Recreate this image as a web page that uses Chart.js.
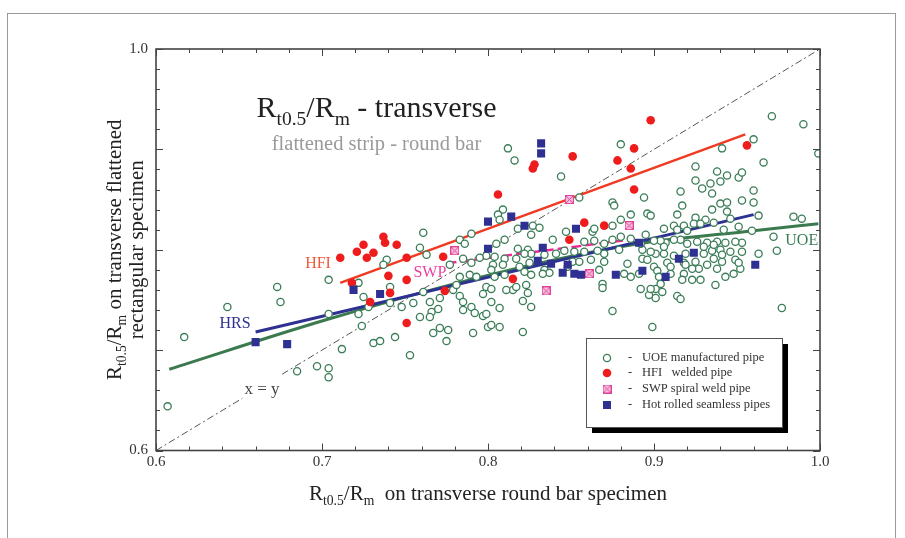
<!DOCTYPE html>
<html><head><meta charset="utf-8">
<script src="https://cdn.jsdelivr.net/npm/chart.js@4/dist/chart.umd.min.js"></script>
<style>html,body{margin:0;padding:0;background:#fff;}canvas{display:block}</style>
</head><body>
<canvas id="c" width="905" height="538"></canvas>
<script>
// ---------------- data ----------------
const uoePoints = [
[0.607,0.644],[0.617,0.713],[0.643,0.743],[0.673,0.763],[0.675,0.748],[0.685,0.679],[0.697,0.684],[0.704,0.682],[0.704,0.673],[0.704,0.770],[0.704,0.736],[0.712,0.701],[0.722,0.767],[0.724,0.724],[0.725,0.753],[0.722,0.736],[0.728,0.743],[0.731,0.707],[0.735,0.709],[0.744,0.713],[0.739,0.790],[0.737,0.785],[0.741,0.763],[0.741,0.747],[0.748,0.743],[0.753,0.695],[0.755,0.747],[0.759,0.733],[0.761,0.817],[0.759,0.802],[0.763,0.795],[0.761,0.758],[0.765,0.748],[0.766,0.738],[0.771,0.752],[0.767,0.717],[0.771,0.722],[0.776,0.720],[0.775,0.709],[0.770,0.741],[0.779,0.760],[0.783,0.773],[0.785,0.791],[0.783,0.810],[0.786,0.806],[0.790,0.816],[0.789,0.775],[0.793,0.773],[0.781,0.765],[0.783,0.754],[0.785,0.748],[0.790,0.743],[0.785,0.740],[0.792,0.737],[0.797,0.756],[0.799,0.763],[0.797,0.734],[0.791,0.717],[0.800,0.723],[0.799,0.794],[0.795,0.792],[0.790,0.787],
[0.812,0.901],[0.816,0.889],[0.844,0.873],[0.880,0.905],[0.855,0.852],[0.875,0.847],[0.894,0.852],[0.896,0.836],[0.886,0.835],[0.880,0.830],[0.875,0.824],[0.809,0.840],[0.806,0.835],[0.807,0.830],[0.827,0.824],[0.971,0.933],[0.990,0.925],[0.999,0.896],[0.960,0.910],[0.941,0.901],[0.966,0.887],[0.925,0.883],[0.938,0.878],[0.944,0.874],[0.951,0.872],[0.953,0.877],[0.925,0.869],[0.929,0.861],[0.934,0.866],[0.940,0.868],[0.935,0.856],[0.916,0.858],[0.960,0.859],[0.953,0.849],[0.960,0.847],[0.917,0.844],[0.940,0.846],[0.944,0.847],[0.935,0.840],[0.944,0.838],[0.914,0.835],[0.898,0.834],[0.963,0.834],[0.946,0.831],[0.925,0.832],[0.984,0.833],[0.989,0.831],[0.931,0.830],[0.876,0.844],[0.831,0.822],[0.972,0.813],[0.974,0.799],[0.963,0.796],[0.977,0.742],
[0.906,0.821],[0.912,0.824],[0.918,0.824],[0.924,0.826],[0.928,0.826],[0.936,0.827],[0.942,0.820],[0.951,0.823],[0.959,0.819],
[0.952,0.781],[0.948,0.776],[0.943,0.773],[0.937,0.765],[0.928,0.770],[0.923,0.770],[0.918,0.776],[0.927,0.781],[0.932,0.785],[0.938,0.781],[0.941,0.788],[0.936,0.791],[0.935,0.799],[0.940,0.800],[0.946,0.798],[0.953,0.798],[0.953,0.807],[0.949,0.808],[0.943,0.807],[0.938,0.808],[0.932,0.807],[0.926,0.808],[0.920,0.806],[0.916,0.810],[0.912,0.810],[0.907,0.807],[0.904,0.809],[0.900,0.809],[0.901,0.796],[0.906,0.796],[0.908,0.787],[0.900,0.783],[0.902,0.779],[0.918,0.787],[0.923,0.781],[0.904,0.766],[0.901,0.761],[0.914,0.754],[0.916,0.751],[0.901,0.752],[0.899,0.723],[0.897,0.755],[0.914,0.820],[0.920,0.819],
[0.810,0.810],[0.805,0.806],[0.818,0.821],[0.826,0.815],[0.818,0.801],[0.824,0.800],[0.839,0.810],[0.847,0.818],[0.863,0.818],[0.864,0.809],[0.858,0.808],[0.870,0.806],[0.875,0.810],[0.880,0.813],[0.886,0.811],[0.895,0.815],[0.893,0.800],[0.898,0.798],[0.870,0.796],[0.879,0.800],[0.866,0.799],[0.858,0.798],[0.852,0.798],[0.846,0.799],[0.841,0.796],[0.834,0.795],[0.826,0.796],[0.822,0.796],[0.817,0.791],[0.810,0.791],[0.804,0.793],[0.803,0.785],[0.809,0.785],[0.819,0.783],[0.825,0.787],[0.822,0.778],[0.834,0.780],[0.837,0.777],[0.833,0.776],[0.848,0.783],[0.851,0.788],[0.855,0.788],[0.862,0.790],[0.867,0.780],[0.870,0.788],[0.882,0.776],[0.886,0.773],[0.884,0.786],[0.893,0.791],[0.896,0.790],[0.891,0.776],[0.869,0.766],[0.869,0.762],[0.892,0.761],[0.826,0.775],[0.823,0.765],[0.824,0.757],[0.815,0.760],[0.811,0.760],[0.802,0.761],[0.802,0.748],[0.807,0.742],[0.826,0.743],[0.875,0.739],[0.799,0.736],[0.802,0.725],[0.807,0.723],[0.821,0.718],[0.802,0.780],[0.804,0.773],[0.817,0.763],[0.821,0.749],
[0.905,0.758],[0.898,0.761],[0.903,0.773],[0.917,0.770],[0.910,0.776],[0.910,0.783],[0.912,0.794],[0.919,0.796],[0.930,0.796],[0.941,0.795],[0.949,0.790],[0.951,0.787],[0.919,0.785],[0.925,0.788],[0.930,0.803],[0.936,0.805],[0.906,0.803],[0.892,0.806],
[0.864,0.821],[0.810,0.775],[0.765,0.733],[0.777,0.785]
];
const hfiPoints = [
[0.711,0.792],[0.721,0.798],[0.725,0.805],[0.731,0.797],[0.727,0.792],[0.737,0.813],[0.738,0.807],[0.745,0.805],[0.751,0.792],[0.740,0.774],[0.751,0.770],[0.773,0.793],[0.774,0.759],[0.718,0.767],[0.741,0.757],[0.729,0.748],[0.751,0.727],[0.898,0.929],[0.888,0.901],[0.878,0.889],[0.886,0.881],[0.851,0.893],[0.828,0.885],[0.827,0.881],[0.806,0.855],[0.888,0.860],[0.858,0.827],[0.870,0.824],[0.956,0.904],[0.849,0.810],[0.815,0.771]
];
const swpPoints = [[0.780,0.799],[0.849,0.850],[0.885,0.824],[0.835,0.759],[0.861,0.776]];
const hrsPoints = [
[0.660,0.708],[0.679,0.706],[0.719,0.760],[0.735,0.756],[0.800,0.828],[0.800,0.801],[0.814,0.833],[0.822,0.824],[0.832,0.906],[0.832,0.896],[0.833,0.802],[0.830,0.789],[0.838,0.786],[0.845,0.777],[0.848,0.785],[0.852,0.776],[0.856,0.775],[0.853,0.821],[0.877,0.775],[0.891,0.807],[0.893,0.779],[0.907,0.773],[0.915,0.791],[0.924,0.797],[0.961,0.785]
];
const hfiFit = [[0.711,0.767],[0.955,0.915]];
const swpFit = [[0.775,0.7865],[0.885,0.810]];
const hrsFit = [[0.660,0.718],[0.960,0.835]];
const uoeFit = [[0.608,0.681],[0.702,0.730],[0.801,0.775],[0.887,0.805],[0.960,0.819],[0.999,0.826]];
const identityLow = [[0.6,0.6],[0.652,0.652]];
const identityHigh = [[0.676,0.676],[1.0,1.0]];
const xTickLabels = ['0.6','0.7','0.8','0.9','1.0'];
const yTickLabels = ['0.6','1.0'];
const seriesNames = ['UOE manufactured pipe','HFI   welded pipe','SWP spiral weld pipe','Hot rolled seamless pipes'];
const fitLabels = [['HFI',0.6976,0.7857,'#f05a3a'],['SWP',0.765,0.7773,'#ee3fa0'],['HRS',0.6476,0.726,'#2e3192'],['UOE',0.989,0.8087,'#3a7d57'],['x = y',0.6639,0.6603,'#444']];

// ---------------- styles ----------------
const SERIF = '"Liberation Serif","Times New Roman",serif';
const C_UOE = '#3a7d57', C_HFI = '#ee1c1c', C_HRS = '#2e3192', C_SWP = '#e0449a';
function swpIcon(){
  const c=document.createElement('canvas'); c.width=9; c.height=9;
  const g=c.getContext('2d');
  g.fillStyle='#f8bedc'; g.fillRect(0,0,9,9);
  g.fillStyle=C_SWP;
  for(let i=1;i<8;i++){ for(let j=1;j<8;j++){ if((i+j)%2===0 && (i===j||i+j===8)) g.fillRect(i,j,1,1);} }
  g.strokeStyle=C_SWP; g.lineWidth=1; g.strokeRect(0.5,0.5,8,8);
  return c;
}
const SWP_ICON = swpIcon();
const toXY = a => a.map(p=>({x:p[0],y:p[1]}));

function fnt(s){ return s+'px '+SERIF; }
function richW(ctx,segs,size){ let w=0; for(const s of segs){ ctx.font=fnt(s.sub?size*0.65:size); w+=ctx.measureText(s.t).width; } return w; }
function drawRich(ctx,segs,x,y,size,color,center){
  let cx = center ? x - richW(ctx,segs,size)/2 : x;
  ctx.fillStyle=color; ctx.textBaseline='alphabetic'; ctx.textAlign='left';
  for(const s of segs){ const sz=s.sub?size*0.65:size; ctx.font=fnt(sz); ctx.fillText(s.t,cx,s.sub?y+size*0.25:y); cx+=ctx.measureText(s.t).width; }
}
const RR = [{t:'R'},{t:'t0.5',sub:1},{t:'/R'},{t:'m',sub:1}];

const decor = {
  id:'decor',
  beforeDraw(chart){
    const ctx=chart.ctx; ctx.save();
    ctx.fillStyle='#fff'; ctx.fillRect(0,0,chart.width,chart.height);
    ctx.strokeStyle='#9a9a9a'; ctx.lineWidth=1;
    ctx.strokeRect(7.5,13.5,888,560);
    ctx.restore();
  },
  afterDraw(chart){
    const {ctx, chartArea:a, scales:{x,y}} = chart;
    ctx.save();
    ctx.strokeStyle='#444'; ctx.lineWidth=1.6;
    ctx.strokeRect(a.left,a.top,a.right-a.left,a.bottom-a.top);
    ctx.lineWidth=1; ctx.strokeStyle='#444';
    for(let i=0;i<=20;i++){
      const v=0.6+i*0.02, L=(i%5===0)?7:4;
      const px=Math.round(x.getPixelForValue(v))+0.5, py=Math.round(y.getPixelForValue(v))+0.5;
      ctx.beginPath();
      ctx.moveTo(px,a.bottom); ctx.lineTo(px,a.bottom-L);
      ctx.moveTo(px,a.top); ctx.lineTo(px,a.top+L);
      ctx.moveTo(a.left,py); ctx.lineTo(a.left+L,py);
      ctx.moveTo(a.right,py); ctx.lineTo(a.right-L,py);
      ctx.stroke();
    }
    ctx.textAlign='center'; ctx.textBaseline='middle';
    for(const [t,vx,vy,col] of fitLabels){
      ctx.font=fnt(t==='x = y'?17:16); ctx.fillStyle=col;
      ctx.fillText(t,x.getPixelForValue(vx),y.getPixelForValue(vy));
    }
    drawRich(ctx,RR.concat([{t:' - transverse'}]),376.5,117,30,'#222',true);
    ctx.font=fnt(20.5); ctx.fillStyle='#9a9a9a'; ctx.textAlign='center'; ctx.textBaseline='alphabetic';
    ctx.fillText('flattened strip - round bar',376.5,150);
    drawRich(ctx,RR.concat([{t:'  on transverse round bar specimen'}]),(a.left+a.right)/2,500,21,'#222',true);
    const cy=(a.top+a.bottom)/2;
    ctx.save(); ctx.translate(121,cy); ctx.rotate(-Math.PI/2);
    drawRich(ctx,RR.concat([{t:' on transverse flattened'}]),0,0,21,'#222',true);
    ctx.restore();
    ctx.save(); ctx.translate(143,cy); ctx.rotate(-Math.PI/2);
    ctx.font=fnt(21); ctx.fillStyle='#222'; ctx.textAlign='center'; ctx.textBaseline='alphabetic';
    ctx.fillText('rectangular specimen',0,0);
    ctx.restore();
    const bx=586, by=338, bw=196, bh=89;
    ctx.fillStyle='#000'; ctx.fillRect(bx+6,by+6,bw,bh);
    ctx.fillStyle='#fff'; ctx.fillRect(bx,by,bw,bh);
    ctx.strokeStyle='#555'; ctx.lineWidth=1; ctx.strokeRect(bx+0.5,by+0.5,bw,bh);
    const rows=[358,373,389,405], mx=607;
    ctx.beginPath(); ctx.arc(mx,rows[0],3.6,0,Math.PI*2); ctx.fillStyle='#fff'; ctx.fill(); ctx.strokeStyle=C_UOE; ctx.lineWidth=1.3; ctx.stroke();
    ctx.beginPath(); ctx.arc(mx,rows[1],4.3,0,Math.PI*2); ctx.fillStyle=C_HFI; ctx.fill();
    ctx.drawImage(SWP_ICON,mx-4.5,rows[2]-4.5);
    ctx.fillStyle=C_HRS; ctx.fillRect(mx-4,rows[3]-4,8,8);
    ctx.font=fnt(12.5); ctx.fillStyle='#333'; ctx.textAlign='left'; ctx.textBaseline='middle';
    rows.forEach((ry,i)=>{ ctx.fillText('-',628,ry); ctx.fillText(seriesNames[i],642,ry); });
    ctx.restore();
  }
};

const lineDs = (data,color,width,dash,tension) => ({type:'line',data:toXY(data),borderColor:color,borderWidth:width,borderDash:dash||[],pointRadius:0,fill:false,tension:tension||0,showLine:true,cubicInterpolationMode:tension?'monotone':'default'});

new Chart(document.getElementById('c'),{
  type:'scatter',
  data:{datasets:[
    {label:'HRS',data:toXY(hrsPoints),pointStyle:'rect',pointRadius:5.7,backgroundColor:C_HRS,borderColor:C_HRS,borderWidth:0},
    {label:'SWP',data:toXY(swpPoints),pointStyle:SWP_ICON,pointRadius:5},
    {label:'HFI',data:toXY(hfiPoints),pointStyle:'circle',pointRadius:4.3,backgroundColor:C_HFI,borderColor:C_HFI,borderWidth:0},
    {label:'UOE',data:toXY(uoePoints),pointStyle:'circle',pointRadius:3.6,backgroundColor:'#fff',borderColor:C_UOE,borderWidth:1.3},
    lineDs(hfiFit,'#f03a22',2.5),
    lineDs(swpFit,'#ec2b95',2.5,[10,4]),
    lineDs(hrsFit,C_HRS,3),
    lineDs(uoeFit,'#3b7a4e',3,null,0.4),
    lineDs(identityLow,'#555',1,[7,3,2,3]),
    lineDs(identityHigh,'#555',1,[7,3,2,3])
  ]},
  options:{
    responsive:false, animation:false, devicePixelRatio:1,
    layout:{padding:{left:0,top:49,right:85,bottom:0}},
    plugins:{legend:{display:false},tooltip:{enabled:false}},
    scales:{
      x:{type:'linear',min:0.6,max:1.0,
        afterBuildTicks:s=>{s.ticks=xTickLabels.map(v=>({value:parseFloat(v)}));},
        ticks:{padding:3,color:'#333',font:{family:SERIF,size:15},callback:v=>v.toFixed(1),autoSkip:false,maxRotation:0},
        grid:{display:false,drawTicks:false},border:{display:false},
        afterFit:s=>{s.height=87.5;}},
      y:{type:'linear',min:0.6,max:1.0,
        afterBuildTicks:s=>{s.ticks=yTickLabels.map(v=>({value:parseFloat(v)}));},
        ticks:{padding:8,color:'#333',font:{family:SERIF,size:15},callback:v=>v.toFixed(1),autoSkip:false},
        grid:{display:false,drawTicks:false},border:{display:false},
        afterFit:s=>{s.width=156;}}
    }
  },
  plugins:[decor]
});
</script>
</body></html>
